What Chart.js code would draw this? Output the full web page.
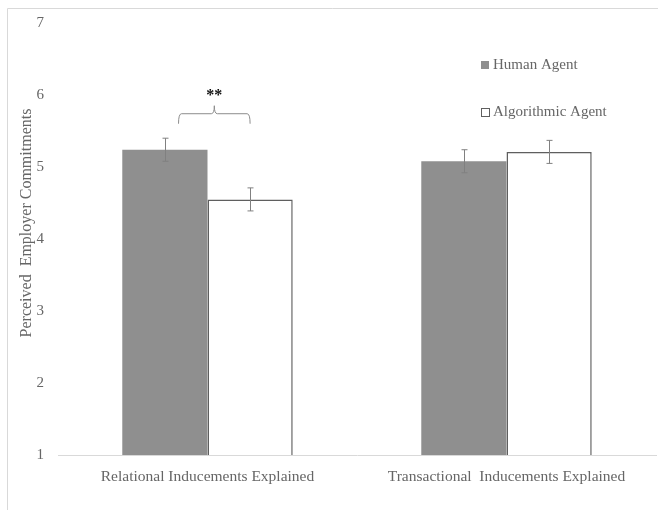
<!DOCTYPE html>
<html>
<head>
<meta charset="utf-8">
<script src="https://cdn.jsdelivr.net/npm/chart.js@4/dist/chart.umd.min.js"></script>
<style>
  html, body { margin: 0; padding: 0; background: #fff; }
  #wrap { width: 658px; height: 510px; position: relative; }
</style>
</head>
<body>
<div id="wrap"><canvas id="chart" width="658" height="510"></canvas></div>
<script>
// --- data ---
const categories = ['Relational Inducements Explained', 'Transactional  Inducements Explained'];
const humanAgent = [5.24, 5.08];
const algoAgent = [4.55, 5.21];
const humanErr = [0.16, 0.16];
const algoErr = [0.16, 0.16];
const yTicks = [1, 2, 3, 4, 5, 6, 7];
const seriesNames = ['Human Agent', 'Algorithmic Agent'];
const yTitle = 'Perceived  Employer Commitments';

const textColor = '#666666';
const serif = "'Liberation Serif', 'DejaVu Serif', serif";

// frame lines (top and left)
const framePlugin = {
    id: 'frame',
    beforeDraw(chart) {
        const ctx = chart.ctx;
        ctx.save();
        ctx.strokeStyle = '#d9d9d9';
        ctx.lineWidth = 1;
        ctx.beginPath();
        ctx.moveTo(7.5, 510);
        ctx.lineTo(7.5, 8.5);
        ctx.lineTo(658, 8.5);
        ctx.stroke();
        ctx.restore();
    }
};

// y axis title, sits a little above the middle like in the original
const yTitlePlugin = {
    id: 'yTitle',
    afterDraw(chart) {
        const ctx = chart.ctx;
        ctx.save();
        ctx.translate(27, 223);
        ctx.rotate(-Math.PI / 2);
        ctx.fillStyle = textColor;
        ctx.font = '16px ' + serif;
        ctx.textAlign = 'center';
        ctx.textBaseline = 'middle';
        ctx.fillText(yTitle, 0, 0);
        ctx.restore();
    }
};

// error bars
const errorBarPlugin = {
    id: 'errorBars',
    afterDatasetsDraw(chart) {
        const ctx = chart.ctx;
        const y = chart.scales.y;
        const errs = [humanErr, algoErr];
        ctx.save();
        ctx.strokeStyle = '#808080';
        ctx.lineWidth = 1;
        chart.data.datasets.forEach((ds, di) => {
            chart.getDatasetMeta(di).data.forEach((bar, i) => {
                const v = ds.data[i];
                const x = Math.round(bar.x) + 0.5;
                const top = y.getPixelForValue(v + errs[di][i]);
                const bot = y.getPixelForValue(v - errs[di][i]);
                ctx.beginPath();
                ctx.moveTo(x, top); ctx.lineTo(x, bot);
                ctx.moveTo(x - 3, top); ctx.lineTo(x + 3, top);
                ctx.moveTo(x - 3, bot); ctx.lineTo(x + 3, bot);
                ctx.stroke();
            });
        });
        ctx.restore();
    }
};

// significance bracket over the first category
const bracketPlugin = {
    id: 'bracket',
    afterDatasetsDraw(chart) {
        const ctx = chart.ctx;
        const y = chart.scales.y;
        const b0 = chart.getDatasetMeta(0).data[0];
        const b1 = chart.getDatasetMeta(1).data[0];
        const x1 = b0.x + b0.width * 0.16;
        const x2 = b1.x;
        const xm = (x1 + x2) / 2;
        const yl = y.getPixelForValue(5.74);
        const r = 3;
        ctx.save();
        ctx.strokeStyle = '#8c8c8c';
        ctx.lineWidth = 1;
        ctx.beginPath();
        ctx.moveTo(x1, yl + 10);
        ctx.quadraticCurveTo(x1, yl, x1 + r, yl);
        ctx.lineTo(xm - r, yl);
        ctx.quadraticCurveTo(xm, yl, xm, yl - 8);
        ctx.quadraticCurveTo(xm, yl, xm + r, yl);
        ctx.lineTo(x2 - r, yl);
        ctx.quadraticCurveTo(x2, yl, x2, yl + 10);
        ctx.stroke();
        ctx.fillStyle = '#111';
        ctx.font = 'bold 16px ' + serif;
        ctx.textAlign = 'center';
        ctx.textBaseline = 'middle';
        ctx.fillText('**', xm, yl - 18);
        ctx.restore();
    }
};

// legend drawn inside the plot area
const legendPlugin = {
    id: 'insideLegend',
    afterDraw(chart) {
        const ctx = chart.ctx;
        const rows = [65, 112];
        ctx.save();
        ctx.font = '15px ' + serif;
        ctx.textBaseline = 'middle';
        ctx.textAlign = 'left';
        chart.data.datasets.forEach((ds, i) => {
            const cy = rows[i];
            if (i === 0) {
                ctx.fillStyle = ds.backgroundColor;
                ctx.fillRect(481, cy - 4, 8, 8);
            } else {
                ctx.fillStyle = '#fff';
                ctx.fillRect(481, cy - 4, 8, 8);
                ctx.strokeStyle = ds.borderColor;
                ctx.lineWidth = 1;
                ctx.strokeRect(481.5, cy - 3.5, 8, 8);
            }
            ctx.fillStyle = textColor;
            ctx.fillText(ds.label, 493, cy);
        });
        ctx.restore();
    }
};

new Chart(document.getElementById('chart'), {
    type: 'bar',
    data: {
        labels: categories,
        datasets: [
            {
                label: seriesNames[0],
                data: humanAgent,
                backgroundColor: '#8f8f8f',
                borderWidth: 0
            },
            {
                label: seriesNames[1],
                data: algoAgent,
                backgroundColor: '#ffffff',
                borderColor: '#5f5f5f',
                borderWidth: 1.5
            }
        ]
    },
    options: {
        responsive: false,
        animation: false,
        devicePixelRatio: 1,
        barPercentage: 1,
        categoryPercentage: 0.57,
        layout: { padding: { top: 22, right: 2, left: 0, bottom: 0 } },
        plugins: {
            legend: { display: false },
            tooltip: { enabled: false }
        },
        scales: {
            x: {
                grid: { display: false, drawTicks: false },
                border: { display: true, color: '#d9d9d9', width: 1 },
                ticks: { color: textColor, font: { family: serif, size: 15.5 }, padding: 13, maxRotation: 0 },
                afterFit(scale) { scale.height = 55; }
            },
            y: {
                min: 1,
                max: 7,
                afterBuildTicks(scale) { scale.ticks = yTicks.map(v => ({ value: v })); },
                grid: { display: false, drawTicks: false },
                border: { display: false },
                ticks: { color: textColor, font: { family: serif, size: 15 }, padding: 14 },
                afterFit(scale) { scale.width = 58; }
            }
        }
    },
    plugins: [framePlugin, yTitlePlugin, errorBarPlugin, bracketPlugin, legendPlugin]
});
</script>
</body>
</html>
